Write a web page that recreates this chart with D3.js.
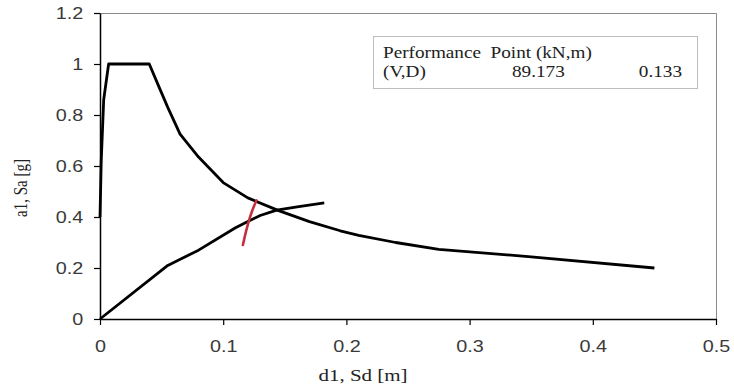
<!DOCTYPE html>
<html>
<head>
<meta charset="utf-8">
<script src="https://cdn.jsdelivr.net/npm/d3@7"></script>
<style>
  body { margin: 0; background: #fff; }
</style>
</head>
<body>
<div id="chart-area"></div>
<script>
// demand spectrum (ADRS)
const demandSd = [0, 0.001, 0.003, 0.007, 0.04, 0.047, 0.055, 0.065, 0.08, 0.1, 0.12, 0.145, 0.17, 0.195, 0.21, 0.24, 0.275, 0.35, 0.45];
const demandSa = [0.4, 0.62, 0.86, 1.0, 1.0, 0.92, 0.83, 0.725, 0.635, 0.535, 0.475, 0.425, 0.382, 0.346, 0.328, 0.3, 0.273, 0.244, 0.2];

// capacity curve
const capacitySd = [0, 0.055, 0.08, 0.11, 0.12, 0.13, 0.1434, 0.16, 0.182];
const capacitySa = [0, 0.21, 0.27, 0.358, 0.382, 0.406, 0.427, 0.44, 0.455];

// red trace near the performance point
const traceSd = [0.116, 0.118, 0.1205, 0.123, 0.127];
const traceSa = [0.29, 0.335, 0.38, 0.42, 0.465];

const xTicks = [0, 0.1, 0.2, 0.3, 0.4, 0.5];
const yTicks = [0, 0.2, 0.4, 0.6, 0.8, 1, 1.2];

const legendTitle = 'Performance  Point (kN,m)';
const legendRow = ['(V,D)', '89.173', '0.133'];

const margins = { top: 13, right: 18, bottom: 68, left: 100 };
const width = 734 - margins.left - margins.right;
const height = 387 - margins.top - margins.bottom;
const stretch = 1.2; // the picture is a bit wide, text too

const svg = d3.select('#chart-area')
  .append('svg')
  .attr('width', 734)
  .attr('height', 387);

const g = svg.append('g')
  .attr('transform', 'translate(' + margins.left + ', ' + margins.top + ')');

const x = d3.scaleLinear().domain([0, 0.5]).range([0, width]);
const y = d3.scaleLinear().domain([0, 1.2]).range([height, 0]);

// frame on top / right
g.append('path')
  .attr('d', 'M0,0.5H' + (width + 0.5) + 'V' + height)
  .attr('fill', 'none')
  .attr('stroke', '#8a8a8a')
  .attr('stroke-width', 1);

const xAxis = g.append('g')
  .attr('transform', 'translate(0,' + height + ')')
  .call(d3.axisBottom(x).tickValues(xTicks).tickSize(6).tickSizeOuter(0).tickFormat(d3.format('')));

const yAxis = g.append('g')
  .call(d3.axisLeft(y).tickValues(yTicks).tickSize(6).tickSizeOuter(0).tickFormat(d3.format('')));

[xAxis, yAxis].forEach((ax) => {
  ax.select('.domain').attr('stroke', '#000').attr('stroke-width', 1.5);
  ax.selectAll('.tick line').attr('stroke', '#000').attr('stroke-width', 1.2);
  ax.selectAll('.tick text')
    .attr('fill', '#3a3a3a')
    .attr('font-family', '"Liberation Sans", Arial, sans-serif')
    .attr('font-size', 16.5);
});

xAxis.selectAll('.tick text')
  .attr('y', 21)
  .attr('transform', 'scale(' + stretch + ',1)');

yAxis.selectAll('.tick text')
  .attr('x', -14)
  .attr('transform', 'scale(' + stretch + ',1)');

const line = d3.line()
  .x((d) => x(d[0]))
  .y((d) => y(d[1]));

const zip = (a, b) => a.map((v, i) => [v, b[i]]);

g.append('path')
  .datum(zip(demandSd, demandSa))
  .attr('d', line)
  .attr('fill', 'none')
  .attr('stroke', '#000')
  .attr('stroke-width', 2.8)
  .attr('stroke-linejoin', 'round');

g.append('path')
  .datum(zip(capacitySd, capacitySa))
  .attr('d', line)
  .attr('fill', 'none')
  .attr('stroke', '#000')
  .attr('stroke-width', 2.8)
  .attr('stroke-linejoin', 'round');

g.append('path')
  .datum(zip(traceSd, traceSa))
  .attr('d', line.curve(d3.curveBasis))
  .attr('fill', 'none')
  .attr('stroke', '#c4303e')
  .attr('stroke-width', 2.6)
  .attr('stroke-linecap', 'round');

// axis titles
svg.append('text')
  .attr('transform', 'translate(363,381) scale(' + stretch + ',1)')
  .attr('text-anchor', 'middle')
  .attr('font-family', '"Liberation Serif", "Times New Roman", serif')
  .attr('font-size', 17.5)
  .attr('fill', '#222')
  .text('d1, Sd [m]');

svg.append('text')
  .attr('transform', 'translate(27,188) rotate(-90) scale(1,' + stretch + ')')
  .attr('text-anchor', 'middle')
  .attr('font-family', '"Liberation Serif", "Times New Roman", serif')
  .attr('font-size', 15)
  .attr('fill', '#222')
  .text('a1, Sa [g]');

// performance point box
const legend = svg.append('g');

legend.append('rect')
  .attr('x', 373.5)
  .attr('y', 36.5)
  .attr('width', 324)
  .attr('height', 52)
  .attr('fill', '#fff')
  .attr('stroke', '#bdbdbd');

const legendText = (str, px, py, anchor) => {
  legend.append('text')
    .attr('transform', 'translate(' + px + ',' + py + ') scale(' + stretch + ',1)')
    .attr('text-anchor', anchor || 'start')
    .attr('font-family', '"Liberation Serif", "Times New Roman", serif')
    .attr('font-size', 16)
    .attr('fill', '#222')
    .style('white-space', 'pre')
    .text(str);
};

legendText(legendTitle, 383, 58);
legendText(legendRow[0], 383, 77);
legendText(legendRow[1], 512, 77);
legendText(legendRow[2], 682, 77, 'end');
</script>
</body>
</html>
